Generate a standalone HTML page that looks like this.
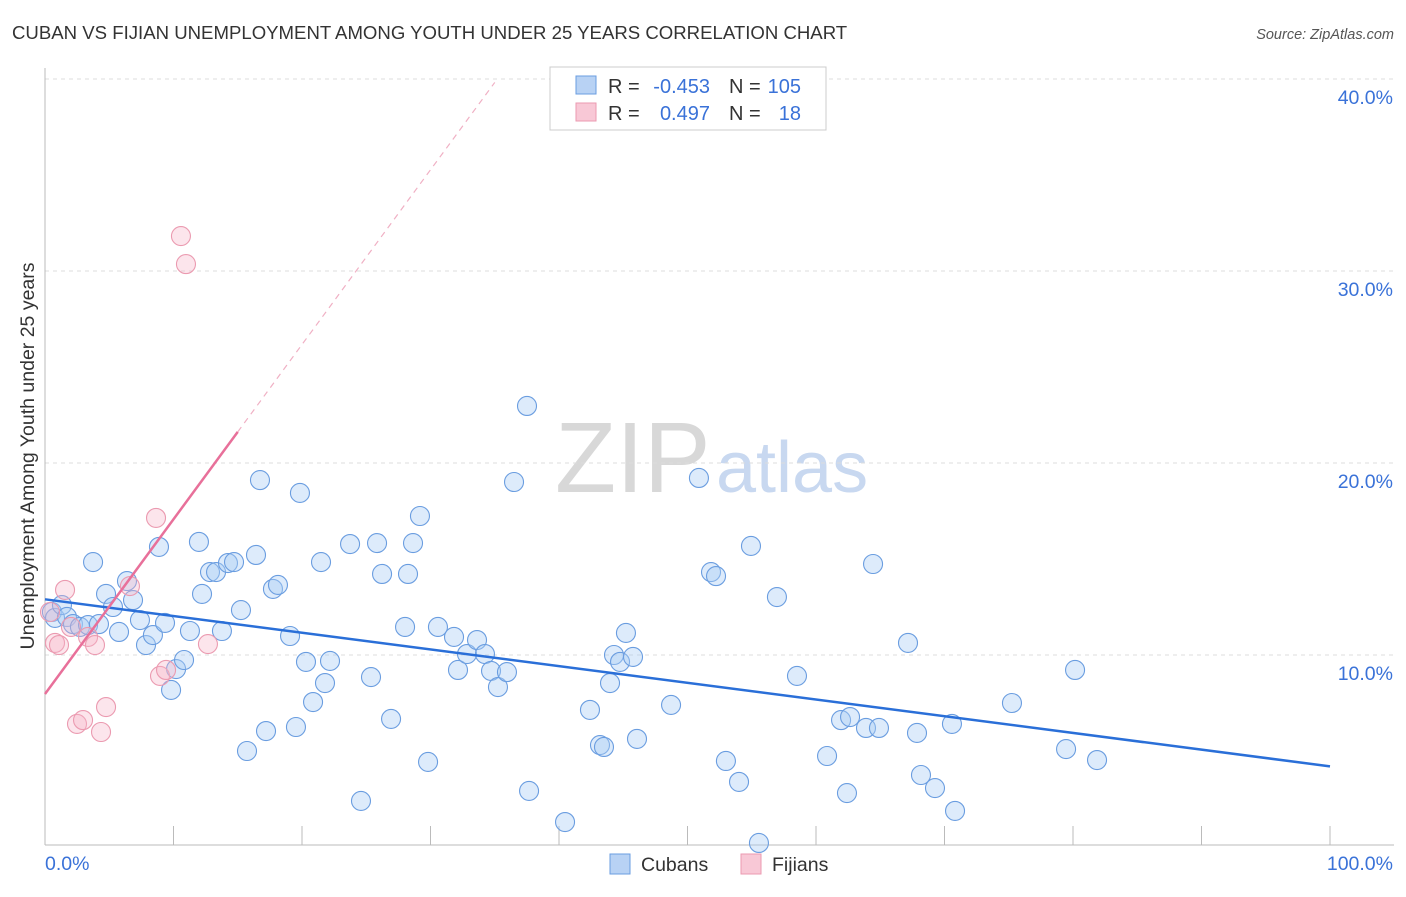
<!DOCTYPE html>
<html><head><meta charset="utf-8"><style>
body{margin:0;background:#fff;font-family:"Liberation Sans",sans-serif}
svg text{font-family:"Liberation Sans",sans-serif}
</style></head><body>
<svg id="c" width="1406" height="892" viewBox="0 0 1406 892">
<text x="12" y="39" font-size="18.6" fill="#333">CUBAN VS FIJIAN UNEMPLOYMENT AMONG YOUTH UNDER 25 YEARS CORRELATION CHART</text>
<text x="1394" y="39" font-size="14.5" font-style="italic" fill="#555" text-anchor="end">Source: ZipAtlas.com</text>
<text x="555" y="492" font-size="100" font-family="Liberation Serif" fill="#d8d8d8">ZIP</text>
<text x="716" y="492" font-size="72" fill="#c8d8f0">atlas</text>
<text transform="translate(34,456) rotate(-90)" font-size="19.5" fill="#333" text-anchor="middle">Unemployment Among Youth under 25 years</text>
<g id="grid"></g><g id="marks"></g>
<g>
<rect x="550" y="67" width="276" height="63" fill="#fff" stroke="#ccc"/>
<rect x="576" y="76" width="20" height="18" fill="#b8d2f4" stroke="#6a9de0"/>
<rect x="576" y="103" width="20" height="18" fill="#f8c8d6" stroke="#eb9ab0"/>
<text x="608" y="93" font-size="20" fill="#333">R =</text>
<text x="710" y="93" font-size="20" fill="#3a72d8" text-anchor="end">-0.453</text>
<text x="729" y="93" font-size="20" fill="#333">N =</text>
<text x="801" y="93" font-size="20" fill="#3a72d8" text-anchor="end">105</text>
<text x="608" y="120" font-size="20" fill="#333">R =</text>
<text x="710" y="120" font-size="20" fill="#3a72d8" text-anchor="end">0.497</text>
<text x="729" y="120" font-size="20" fill="#333">N =</text>
<text x="801" y="120" font-size="20" fill="#3a72d8" text-anchor="end">18</text>
</g>
<g>
<rect x="610" y="854" width="20" height="20" fill="#b8d2f4" stroke="#6a9de0"/>
<text x="641" y="871" font-size="19.5" fill="#333">Cubans</text>
<rect x="741" y="854" width="20" height="20" fill="#f8c8d6" stroke="#eb9ab0"/>
<text x="772" y="871" font-size="19.5" fill="#333">Fijians</text>
</g>
</svg>
<script>
const yTicks=[10,20,30,40];
const yTickLabels=["10.0%","20.0%","30.0%","40.0%"];
const xTickLabels=["0.0%","100.0%"];
const cubanX=[0.54,0.78,1.32,1.71,2.18,2.72,3.35,4.2,3.74,4.75,5.29,5.76,6.38,6.85,7.39,7.86,8.4,8.87,9.34,9.81,10.2,10.82,11.28,11.98,12.22,12.84,13.31,13.77,14.24,14.71,15.25,15.72,16.42,16.73,17.2,17.74,18.13,19.07,19.53,19.84,20.31,20.86,21.48,21.79,22.18,23.74,24.59,25.37,25.84,26.23,26.93,28.02,28.25,28.64,29.18,29.81,30.58,31.83,32.14,32.84,33.62,34.24,34.71,35.25,35.95,36.5,37.51,37.67,40.47,42.41,43.19,43.5,43.97,44.28,44.75,45.21,45.76,46.07,48.72,50.89,51.83,52.22,52.99,54.01,54.94,55.56,56.96,58.52,60.86,61.95,62.41,62.65,63.89,64.44,64.9,67.16,67.86,68.17,69.26,70.58,70.82,75.25,79.46,80.16,81.87];
const cubanY=[12.24,11.93,12.6,11.98,11.61,11.46,11.56,11.61,14.84,13.18,12.5,11.2,13.85,12.86,11.82,10.52,11.04,15.63,11.67,8.18,9.27,9.74,11.25,15.89,13.18,14.32,14.32,11.25,14.79,14.84,12.34,5.0,15.21,19.11,6.04,13.44,13.65,10.99,6.25,18.44,9.64,7.55,14.84,8.54,9.69,15.78,2.4,8.85,15.83,14.22,6.67,11.46,14.22,15.83,17.24,4.43,11.46,10.94,9.22,10.05,10.78,10.05,9.17,8.33,9.11,19.01,22.97,2.92,1.3,7.14,5.31,5.21,8.54,10.0,9.64,11.15,9.9,5.63,7.4,19.22,14.32,14.11,4.48,3.39,15.68,0.21,13.02,8.91,4.74,6.61,2.81,6.77,6.2,14.74,6.2,10.63,5.94,3.75,3.07,6.41,1.88,7.5,5.1,9.22,4.53];
const fijianX=[0.39,0.78,1.09,1.56,2.02,2.49,2.96,3.35,3.89,4.36,4.75,6.61,8.64,8.95,9.42,10.58,10.97,12.68];
const fijianY=[12.24,10.63,10.52,13.39,11.46,6.41,6.61,10.94,10.52,5.99,7.29,13.59,17.14,8.91,9.22,31.82,30.36,10.57];
const cubanTrend=[12.9,4.2];
const fijianTrend=[7.97,0.91];
const NS="http://www.w3.org/2000/svg";
const X=v=>45+v*12.85, Y=v=>847-v*19.2;
function mk(t,a,p){const e=document.createElementNS(NS,t);for(const k in a)e.setAttribute(k,a[k]);p.appendChild(e);return e;}
const g=document.getElementById('grid'),m=document.getElementById('marks');
yTicks.forEach((t,i)=>{
 const l=mk('line',{x1:45,x2:1394,y1:Y(t),y2:Y(t),stroke:'#ddd','stroke-dasharray':'4,4'},g);
 
 
 const tx=mk('text',{x:1393,y:Y(t)+25,'font-size':19.5,fill:'#3a72d8','text-anchor':'end'},g);tx.textContent=yTickLabels[i];
 
 
});
const ax=mk('line',{x1:45,x2:45,y1:68,y2:845,stroke:'#bbb'},g);


const bx=mk('line',{x1:45,x2:1394,y1:845,y2:845,stroke:'#bbb'},g);


for(let i=0;i<=10;i++){const t=mk('line',{x1:X(i*10),x2:X(i*10),y1:826,y2:845,stroke:'#bbb'},g);
 
 }
[[0,'start',45],[100,'end',1393]].forEach((d,i)=>{const t=mk('text',{x:d[2],y:870,'font-size':19.5,fill:'#3a72d8','text-anchor':d[1]},g);t.textContent=xTickLabels[i];
 
 });
cubanX.forEach((x,i)=>{const c=mk('circle',{cx:X(x),cy:Y(cubanY[i]),r:9.5,fill:'rgba(170,204,244,0.4)',stroke:'#6a9de0','stroke-width':1.1},m);
 
 });
fijianX.forEach((x,i)=>{const c=mk('circle',{cx:X(x),cy:Y(fijianY[i]),r:9.5,fill:'rgba(246,180,200,0.35)',stroke:'#eb9ab0','stroke-width':1.1},m);
 
 });
const bl=mk('line',{x1:X(0),y1:Y(cubanTrend[0]),x2:X(100),y2:Y(cubanTrend[1]),stroke:'#2a6fd8','stroke-width':2.5},m);


const pl=mk('line',{x1:X(0),y1:Y(fijianTrend[0]),x2:X(15),y2:Y(fijianTrend[0]+15*fijianTrend[1]),stroke:'#e8709a','stroke-width':2.5},m);


const pd=mk('line',{x1:X(15),y1:Y(fijianTrend[0]+15*fijianTrend[1]),x2:X(35),y2:Y(fijianTrend[0]+35*fijianTrend[1]),stroke:'#f0b0c4','stroke-width':1.2,'stroke-dasharray':'6,5'},m);


</script>
</body></html>
